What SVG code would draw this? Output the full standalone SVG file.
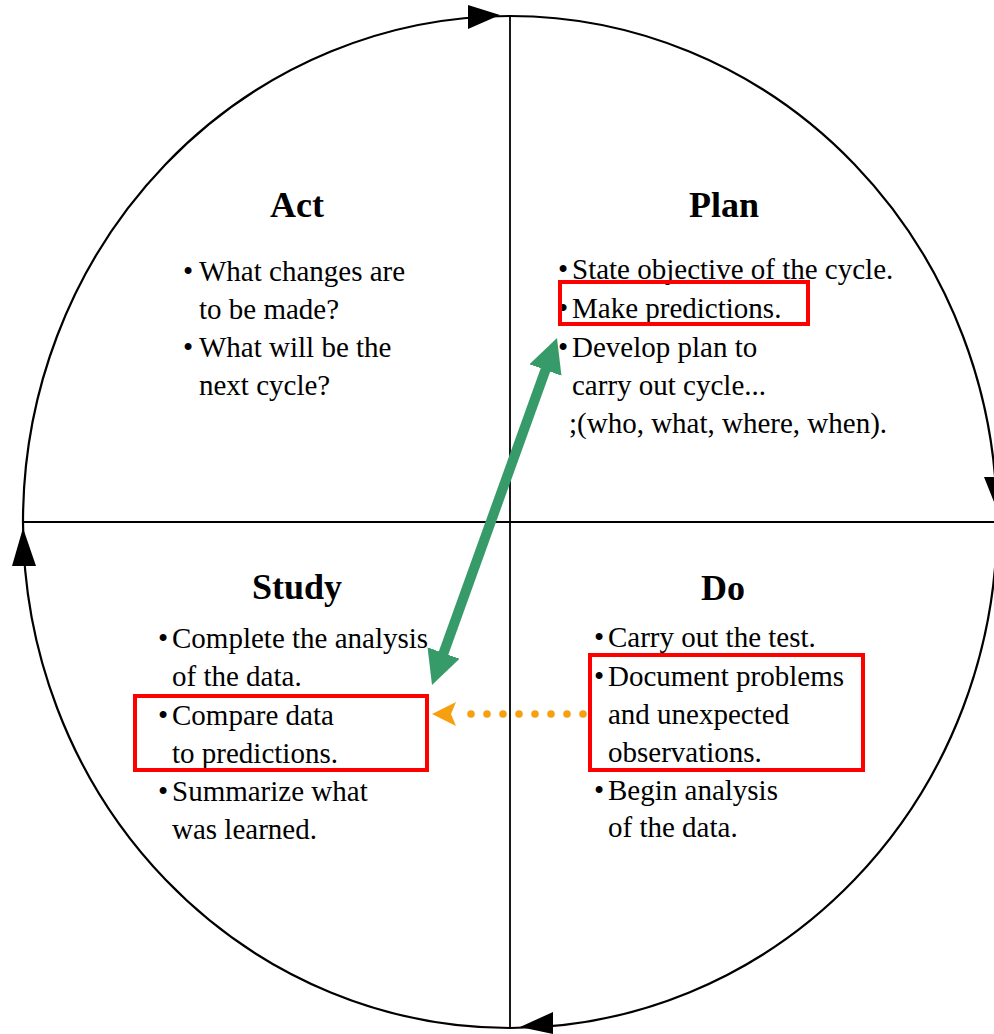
<svg xmlns="http://www.w3.org/2000/svg" width="994" height="1034" viewBox="0 0 994 1034">
<style>
.t{font-family:"Liberation Serif",serif;font-size:36px;font-weight:bold;fill:#000;text-anchor:middle}
.b{font-family:"Liberation Serif",serif;font-size:29px;fill:#000}
.box{fill:none;stroke:#ff0000;stroke-width:4}
.ln{stroke:#000;fill:none}
</style>
<defs>
<marker id="gh" viewBox="0 0 34 34" markerUnits="userSpaceOnUse" markerWidth="34" markerHeight="34" refX="6" refY="17" orient="auto-start-reverse">
<path d="M0,0 L34,17 L0,34 z" fill="#379b69"/>
</marker>
</defs>
<rect width="994" height="1034" fill="#fff"/>
<g id="cycle">
<ellipse cx="510" cy="522" rx="487" ry="506" class="ln" stroke-width="2.2"/>
<line x1="23" y1="522" x2="994" y2="522" class="ln" stroke-width="2"/>
<line x1="510" y1="16" x2="510" y2="1028" class="ln" stroke-width="1.8"/>
<path d="M468,5 L500,15 L468,29 z" fill="#000"/>
<path d="M23,528 L36,566 L12,566 z" fill="#000"/>
<path d="M984,477 L1008,477 L996,507 z" fill="#000"/>
<path d="M520,1027 L553,1012 L553,1034 z" fill="#000"/>
</g>
<g id="act">
<text class="t" x="297" y="217">Act</text>
<text class="b" x="183" y="281">•<tspan x="199">What changes are</tspan></text>
<text class="b" x="199" y="319">to be made?</text>
<text class="b" x="183" y="357">•<tspan x="199">What will be the</tspan></text>
<text class="b" x="199" y="395">next cycle?</text>
</g>
<g id="plan">
<text class="t" x="724" y="217">Plan</text>
<text class="b" x="558" y="279">•<tspan x="572">State objective of the cycle.</tspan></text>
<text class="b" x="558" y="318">•<tspan x="572">Make predictions.</tspan></text>
<text class="b" x="558" y="357">•<tspan x="572">Develop plan to</tspan></text>
<text class="b" x="572" y="395">carry out cycle...</text>
<text class="b" x="569" y="433">;(who, what, where, when).</text>
<rect class="box" x="560" y="282" width="248" height="42"/>
</g>
<g id="study">
<text class="t" x="297" y="599">Study</text>
<text class="b" x="158" y="648">•<tspan x="172">Complete the analysis</tspan></text>
<text class="b" x="172" y="686">of the data.</text>
<text class="b" x="158" y="725">•<tspan x="172">Compare data</tspan></text>
<text class="b" x="172" y="763">to predictions.</text>
<text class="b" x="158" y="801">•<tspan x="172">Summarize what</tspan></text>
<text class="b" x="172" y="839">was learned.</text>
<rect class="box" x="135" y="696" width="292" height="74"/>
</g>
<g id="do">
<text class="t" x="723" y="600">Do</text>
<text class="b" x="594" y="647">•<tspan x="608">Carry out the test.</tspan></text>
<text class="b" x="594" y="686">•<tspan x="608">Document problems</tspan></text>
<text class="b" x="608" y="724">and unexpected</text>
<text class="b" x="608" y="762">observations.</text>
<text class="b" x="594" y="800">•<tspan x="608">Begin analysis</tspan></text>
<text class="b" x="608" y="837">of the data.</text>
<rect class="box" x="590" y="655" width="273" height="115"/>
</g>
<g id="connectors">
<line x1="441.5" y1="658.7" x2="547.5" y2="364.3" stroke="#379b69" stroke-width="10" marker-start="url(#gh)" marker-end="url(#gh)"/>
<line x1="583" y1="714" x2="455" y2="714" stroke="#f7a00f" stroke-width="7.5" stroke-linecap="round" stroke-dasharray="0 16"/>
<path d="M432,714 L456,702 L451,714 L456,726 z" fill="#f7a00f"/>
</g>
</svg>
